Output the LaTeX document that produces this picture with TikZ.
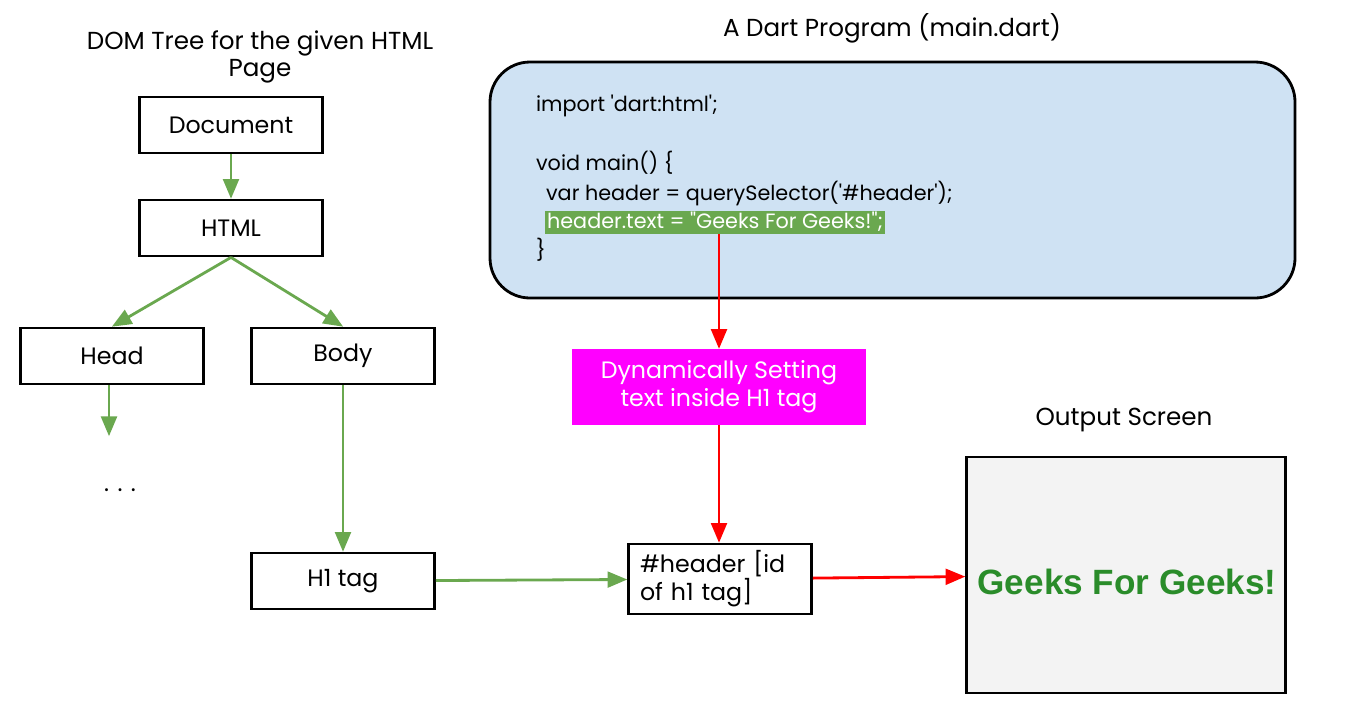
\documentclass[tikz,border=0pt]{standalone}
\usepackage{fontspec}
\setmainfont{Poppins}
\newfontfamily\arialfont{Liberation Sans}
\usepackage{tikz}
\usetikzlibrary{arrows}
\usetikzlibrary{shapes}

\definecolor{treegreen}{HTML}{6AA84F}
\definecolor{codeblue}{HTML}{CFE2F3}
\definecolor{screengray}{HTML}{F3F3F3}
\definecolor{geeksgreen}{HTML}{2A8C2A}
\definecolor{dynmagenta}{HTML}{FF00FF}

\tikzset{
  treebox/.style={draw,line width=1.6pt,minimum width=3.66cm,minimum height=1.12cm,
    font=\fontsize{13.5}{16}\selectfont},
  codeline/.style={anchor=west,inner sep=1pt,font=\fontsize{11.8}{13}\selectfont},
  greenarrow/.style={->,>=triangle 45,draw=treegreen,line width=1.6pt},
  redarrow/.style={->,>=triangle 45,draw=red,line width=1.6pt}
}

\begin{document}
\begin{tikzpicture}[x=0.02cm,y=-0.02cm]
  \useasboundingbox (0,0) rectangle (1354,721);

  % titles
  \node[align=center,font=\fontsize{14}{15.5}\selectfont] at (260,57) (domtitle){DOM Tree for the given HTML\\Page};
  \node[font=\fontsize{14}{16}\selectfont] at (892,28) (darttitle){A Dart Program (main.dart)};
  \node[font=\fontsize{14}{16}\selectfont] at (1124,420) (outtitle){Output Screen};

  % DOM tree
  \node[treebox] at (231,125) (document){Document};
  \node[treebox] at (231,228) (html){HTML};
  \node[treebox] at (112,356) (head){Head};
  \node[treebox] at (343,356) (body){Body};
  \node[treebox] at (343,581) (h1){H1 tag};
  \node[font=\fontsize{13.5}{16}\selectfont] at (120,490) (dots){. . .};
  \coordinate (headend) at (109,436);

  % code
  \draw[line width=1.6pt,fill=codeblue,rounded corners=0.8cm] (490,62) rectangle (1295,298);
  \node[codeline] at (534,106) (imp){import \textquotesingle dart:html\textquotesingle;};
  \node[codeline] at (534,163) (mainfn){void main() \{};
  \node[codeline] at (544,194) (varline){var header = querySelector(\textquotesingle\#header\textquotesingle);};
  \node[codeline,fill=treegreen,text=white] at (545,222) (setline){header.text = \textquotedbl Geeks For Geeks!\textquotedbl;};
  \node[codeline] at (534,250) (closing){\}};

  \node[fill=dynmagenta,text=white,align=center,minimum width=5.88cm,minimum height=1.52cm,
    font=\fontsize{13.5}{16}\selectfont] at (719,387) (dyn){Dynamically Setting\\text inside H1 tag};
  \node[draw,line width=1.6pt,minimum width=3.66cm,minimum height=1.4cm,align=left,
    text width=3.2cm,font=\fontsize{13.5}{16}\selectfont] at (720,579) (hdr){\#header [id\\of h1 tag]};

  % output
  \node[draw,line width=1.6pt,fill=screengray,minimum width=6.38cm,minimum height=4.72cm] at (1126,575) (screen){};
  \node[font=\arialfont\bfseries\fontsize{20}{24}\selectfont,text=geeksgreen] at (1127,582) (geeks){Geeks For Geeks!};

  \draw[greenarrow] (document) -- (html);
  \draw[greenarrow] (html.south) -- (head.north);
  \draw[greenarrow] (html.south) -- (body.north);
  \draw[greenarrow] (head.south -| headend) -- (headend);
  \draw[greenarrow] (body) -- (h1);
  \draw[greenarrow] (h1) -- (hdr);
  \draw[redarrow] (setline.south -| dyn.north) -- (dyn.north);
  \draw[redarrow] (dyn.south) -- (dyn.south |- hdr.north);
  \draw[redarrow] (hdr) -- (screen);
\end{tikzpicture}
\end{document}
